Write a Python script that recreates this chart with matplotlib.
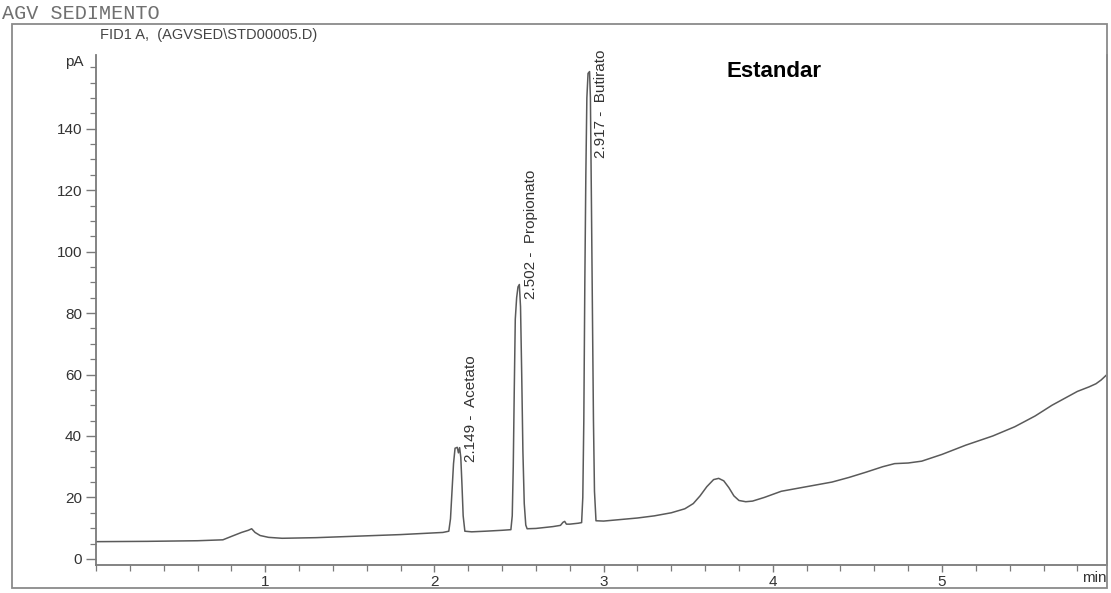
import matplotlib
matplotlib.use('Agg')
import matplotlib.pyplot as plt
from matplotlib.patches import Rectangle
from matplotlib.ticker import MultipleLocator


# FID signal (retention time in min, signal in pA)
time = [0.00, 0.30, 0.60, 0.75, 0.80, 0.86, 0.90, 0.92, 0.94, 0.97, 1.02, 1.10,
        1.30, 1.50, 1.80, 2.05,
        2.085, 2.095, 2.105, 2.113, 2.122, 2.135, 2.142, 2.149, 2.156, 2.163,
        2.170, 2.180,
        2.22, 2.30, 2.40, 2.452,
        2.460, 2.466, 2.472, 2.478, 2.486, 2.494, 2.502, 2.509, 2.516, 2.523,
        2.531, 2.540, 2.548,
        2.60, 2.70, 2.745, 2.760, 2.770, 2.780, 2.80, 2.85,
        2.870, 2.877, 2.883, 2.889, 2.895, 2.901, 2.908, 2.917, 2.922, 2.928,
        2.934, 2.940, 2.946, 2.955,
        3.00, 3.10, 3.20, 3.30, 3.40, 3.48, 3.53, 3.57, 3.61, 3.65, 3.68, 3.71,
        3.74, 3.77, 3.80, 3.84, 3.88, 3.95, 4.05, 4.15, 4.35, 4.45, 4.55, 4.65,
        4.72, 4.80, 4.88, 5.00, 5.14, 5.30, 5.43, 5.55, 5.65, 5.75, 5.80, 5.87,
        5.91, 5.94, 5.975]
signal = [5.6, 5.7, 5.9, 6.2, 7.3, 8.6, 9.3, 9.8, 8.6, 7.6, 7.0, 6.7,
          6.9, 7.3, 7.9, 8.6,
          9.0, 13.0, 23.0, 31.0, 36.0, 36.3, 34.5, 36.2, 33.0, 24.0,
          14.0, 9.0,
          8.8, 9.0, 9.3, 9.5,
          14.0, 30.0, 55.0, 78.0, 85.0, 88.5, 89.3, 82.0, 60.0, 35.0,
          18.0, 11.0, 9.8,
          9.9, 10.5, 10.9, 11.9, 12.2, 11.3, 11.3, 11.6,
          11.8, 20.0, 45.0, 90.0, 125.0, 150.0, 158.0, 158.6, 150.0, 116.0,
          80.0, 45.0, 22.0, 12.4,
          12.3, 12.8, 13.3, 14.0, 15.0, 16.3, 18.0, 20.5, 23.5, 25.8, 26.2, 25.4,
          23.2, 20.5, 19.0, 18.6, 18.8, 20.0, 22.0, 23.0, 25.0, 26.5, 28.2, 30.0,
          31.0, 31.2, 31.8, 34.0, 37.0, 40.0, 43.0, 46.5, 50.0, 53.0, 54.5, 56.0,
          57.0, 58.2, 60.0]

# integrated peaks
peak_rt = [2.149, 2.502, 2.917]
peak_name = ['Acetato', 'Propionato', 'Butirato']
label_base = [31.5, 84.5, 130.5]

x_ticks = [1, 2, 3, 4, 5]
y_ticks = [0, 20, 40, 60, 80, 100, 120, 140]

fig = plt.figure(figsize=(11.11, 5.93), dpi=100)
fig.patch.set_facecolor('white')

# printed report frame
fig.patches.append(Rectangle((0.0108, 0.0084), 0.9856, 0.9511, transform=fig.transFigure,
                             fill=False, edgecolor='#8a8a8a', lw=1.3))
fig.text(0.002, 0.978, 'AGV SEDIMENTO', family='Liberation Mono', fontsize=14.5,
         color='#707070', va='center', ha='left')
fig.text(0.090, 0.941, 'FID1 A,  (AGVSED\\STD00005.D)', family='Liberation Sans',
         fontsize=10.5, color='#444444', va='center', ha='left')

ax = fig.add_axes([0.0864, 0.0472, 0.9100, 0.8601])
ax.plot(time, signal, color='#5a5a5a', lw=1.1)

ax.set_xlim(0, 5.975)
ax.set_ylim(-2.0, 164)
ax.set_xticks(x_ticks)
ax.set_yticks(y_ticks)
ax.xaxis.set_minor_locator(MultipleLocator(0.2))
ax.yaxis.set_minor_locator(MultipleLocator(5))

ax.spines['top'].set_visible(False)
for side in ['left', 'bottom', 'right']:
    ax.spines[side].set_color('#7a7a7a')
    ax.spines[side].set_linewidth(1.3)

ax.tick_params(axis='both', which='both', colors='#7a7a7a', labelcolor='#333333',
               labelsize=11, direction='out')
ax.tick_params(axis='y', which='major', length=7, width=1.0, pad=3)
ax.tick_params(axis='y', which='minor', length=4, width=0.9)
ax.tick_params(axis='x', which='major', length=5, width=1.0, pad=2)
ax.tick_params(axis='x', which='minor', length=4, width=0.9)
for lab in ax.get_xticklabels() + ax.get_yticklabels():
    lab.set_family('Liberation Sans')

ax.text(-0.012, 0.986, 'pA', transform=ax.transAxes, ha='right', va='center',
        fontsize=11, family='Liberation Sans', color='#333333')
ax.text(1.0, -0.026, 'min', transform=ax.transAxes, ha='right', va='center',
        fontsize=11, family='Liberation Sans', color='#333333')

for rt, name, base in zip(peak_rt, peak_name, label_base):
    ax.annotate(f'{rt:.3f} -  {name}', xy=(rt, base), xytext=(3, 0),
                textcoords='offset points', rotation=90, ha='left', va='bottom',
                fontsize=11, family='Liberation Sans', color='#333333')

fig.text(0.654, 0.879, 'Estandar', family='Liberation Sans', fontweight='bold',
         fontsize=16, color='black', ha='left', va='center')

fig.savefig('out.png', dpi=100)
